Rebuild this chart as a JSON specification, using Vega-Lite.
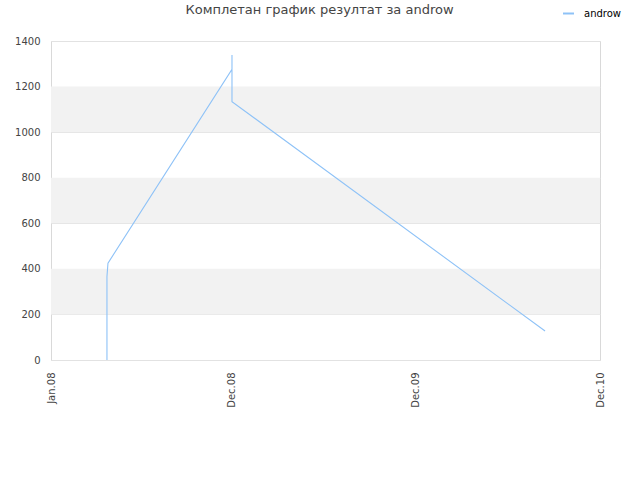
{
  "$schema": "https://vega.github.io/schema/vega-lite/v6.json",
  "autosize": "none",
  "width": 549,
  "height": 319,
  "padding": {"left": 51, "top": 41, "right": 40, "bottom": 120},
  "background": "white",
  "title": {
    "text": "Комплетан график резултат за androw",
    "anchor": "middle",
    "dx": -6,
    "offset": -10,
    "fontSize": 13,
    "font": "DejaVu Sans",
    "fontWeight": "normal",
    "color": "#444444"
  },
  "layer": [
    {
      "data": {
        "values": [
          {"lo": 200, "hi": 400},
          {"lo": 600, "hi": 800},
          {"lo": 1000, "hi": 1200}
        ]
      },
      "mark": {"type": "rect", "color": "#f2f2f2"},
      "encoding": {
        "y": {"field": "lo", "type": "quantitative", "scale": {"domain": [0, 1400]}},
        "y2": {"field": "hi"}
      }
    },
    {
      "data": {
        "values": [
          {"i": 1, "date": "2008/03/28", "score": 0, "player": "androw"},
          {"i": 2, "date": "2008/03/28", "score": 366, "player": "androw"},
          {"i": 3, "date": "2008/03/30", "score": 425, "player": "androw"},
          {"i": 4, "date": "2008/12/01", "score": 1276, "player": "androw"},
          {"i": 5, "date": "2008/12/01", "score": 1339, "player": "androw"},
          {"i": 6, "date": "2008/12/01", "score": 1134, "player": "androw"},
          {"i": 7, "date": "2010/08/14", "score": 127, "player": "androw"}
        ]
      },
      "mark": {"type": "line", "strokeWidth": 1.1, "interpolate": "linear"},
      "encoding": {
        "x": {
          "field": "date",
          "type": "temporal",
          "scale": {
            "domain": [
              {"year": 2007, "month": 12, "date": 8},
              {"year": 2010, "month": 12, "date": 1}
            ]
          },
          "axis": {
            "title": null,
            "values": [
              {"year": 2007, "month": 12, "date": 8},
              {"year": 2008, "month": 12, "date": 1},
              {"year": 2009, "month": 12, "date": 1},
              {"year": 2010, "month": 12, "date": 1}
            ],
            "labelExpr": "datum.index == 0 ? 'Jan.08' : timeFormat(datum.value, '%b.%y')",
            "labelAngle": -90,
            "labelPadding": 12,
            "ticks": false,
            "domain": false,
            "grid": false,
            "labelFont": "DejaVu Sans",
            "labelFontSize": 10,
            "labelColor": "#444444"
          }
        },
        "y": {
          "field": "score",
          "type": "quantitative",
          "scale": {"domain": [0, 1400]},
          "axis": {
            "title": null,
            "values": [0, 200, 400, 600, 800, 1000, 1200, 1400],
            "format": "d",
            "ticks": false,
            "domain": false,
            "grid": true,
            "gridColor": "#e2e2e2",
            "labelPadding": 11,
            "labelFont": "DejaVu Sans",
            "labelFontSize": 10,
            "labelColor": "#444444"
          }
        },
        "order": {"field": "i", "type": "quantitative"},
        "color": {
          "field": "player",
          "type": "nominal",
          "scale": {"range": ["#8ec2f7"]},
          "legend": {
            "title": null,
            "orient": "none",
            "legendX": 511,
            "legendY": -34,
            "symbolType": "stroke",
            "symbolSize": 120,
            "symbolStrokeWidth": 2,
            "labelOffset": 9,
            "labelFont": "DejaVu Sans",
            "labelFontSize": 10,
            "labelColor": "#000000"
          }
        }
      }
    }
  ],
  "config": {
    "view": {"stroke": "#d9d9d9", "strokeWidth": 1}
  }
}
